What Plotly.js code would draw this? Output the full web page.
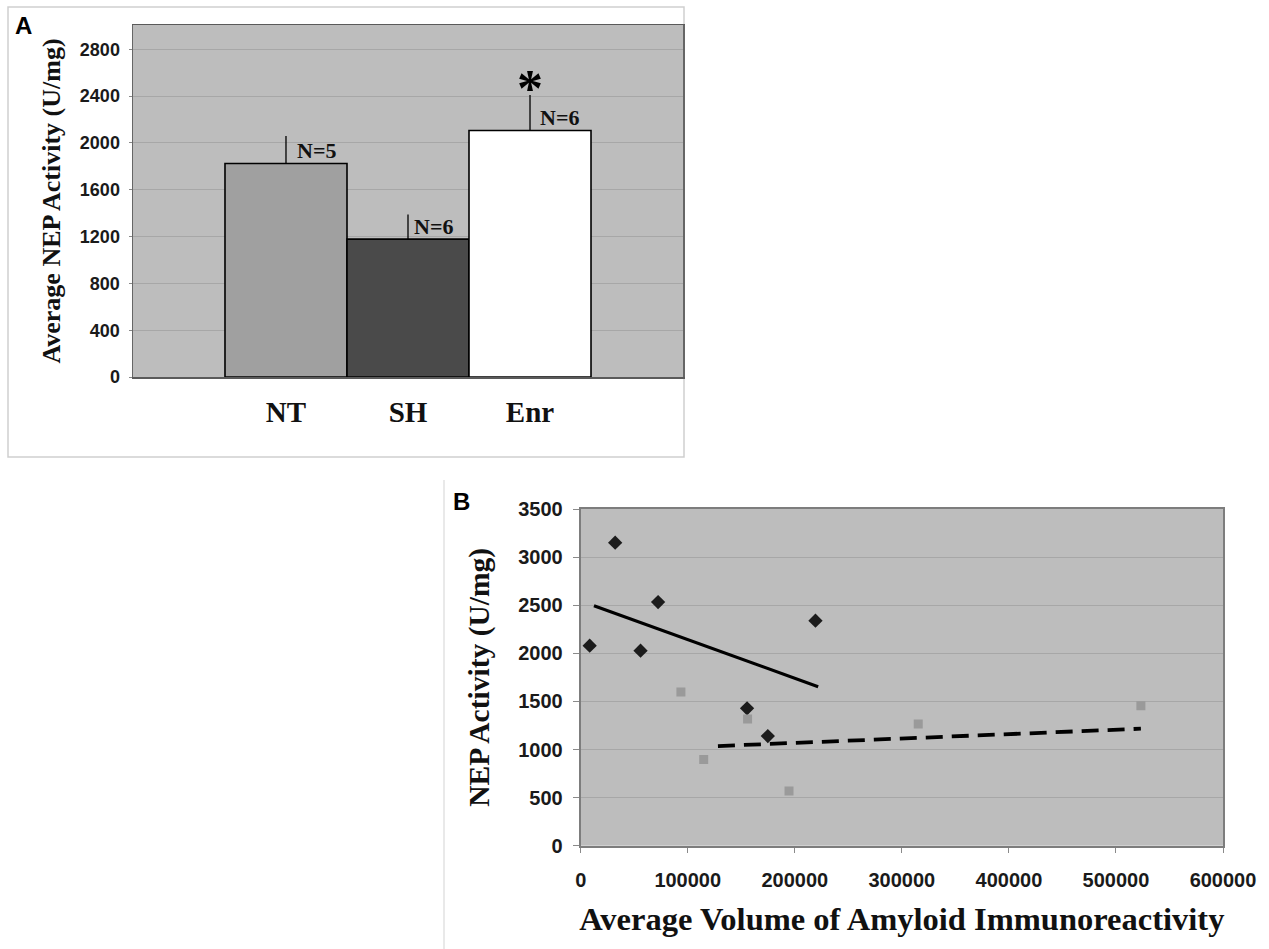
<!DOCTYPE html>
<html>
<head>
<meta charset="utf-8">
<script src="https://cdn.plot.ly/plotly-3.0.1.min.js"></script>
<style>html,body{margin:0;padding:0;background:#fff;}</style>
</head>
<body>
<div id="chart" style="width:1269px;height:949px;"></div>
<script>
// ---- Panel A data ----
const groups = ['NT', 'SH', 'Enr'];
const nepMeans = [1825, 1178, 2107];
const nepErrors = [234, 211, 302];
const groupN = ['N=5', 'N=6', 'N=6'];
const barColors = ['#a0a0a0', '#4a4a4a', '#ffffff'];

// ---- Panel B data ----
const darkX = [8400, 32200, 55900, 72300, 219300, 155400, 174800];
const darkY = [2079, 3150, 2027, 2533, 2339, 1428, 1140];
const grayX = [93600, 155900, 114900, 194600, 315300, 523300];
const grayY = [1597, 1317, 897, 568, 1265, 1455];
const trendDarkX = [12400, 221800];
const trendDarkY = [2495, 1653];
const trendGrayX = [128200, 523300];
const trendGrayY = [1036, 1216];

const W = 1269, H = 949;
const px = x => x / W;
const py = y => 1 - y / H;

const sansB = (s, c) => ({family: 'Liberation Sans, Arial, sans-serif', size: s, weight: 'bold', color: c || '#1a1a1a'});
const serifB = (s, c) => ({family: 'Liberation Serif, Times New Roman, serif', size: s, weight: 'bold', color: c || '#111'});

const traces = [
  {
    type: 'bar', x: groups, y: nepMeans, xaxis: 'x', yaxis: 'y',
    marker: {color: barColors, line: {color: '#000', width: 1.6}},
    error_y: {type: 'data', array: nepErrors, arrayminus: nepErrors.map(() => 0), symmetric: false,
              color: '#000', thickness: 1.3, width: 0},
    hoverinfo: 'x+y'
  },
  {
    type: 'scatter', mode: 'markers', x: darkX, y: darkY, xaxis: 'x2', yaxis: 'y2',
    marker: {symbol: 'diamond', size: 11, color: '#1c1c1c'}
  },
  {
    type: 'scatter', mode: 'markers', x: grayX, y: grayY, xaxis: 'x2', yaxis: 'y2',
    marker: {symbol: 'square', size: 9, color: '#9a9a9a'}
  },
  {
    type: 'scatter', mode: 'lines', x: trendDarkX, y: trendDarkY, xaxis: 'x2', yaxis: 'y2',
    line: {color: '#000', width: 3.2}
  },
  {
    type: 'scatter', mode: 'lines', x: trendGrayX, y: trendGrayY, xaxis: 'x2', yaxis: 'y2',
    line: {color: '#000', width: 3.8, dash: '17px,9px'}
  }
];

const nShift = [9, 4, 8];
const annotations = groups.map((g, i) => ({
  x: g, y: nepMeans[i], xref: 'x', yref: 'y', text: groupN[i], showarrow: false,
  xanchor: 'left', yanchor: 'bottom', xshift: nShift[i], yshift: -2, font: serifB(22)
}));
annotations.push({
  x: groups[2], y: nepMeans[2] + nepErrors[2], xref: 'x', yref: 'y', text: '*', showarrow: false,
  xanchor: 'center', yanchor: 'bottom', yshift: -24, font: serifB(52, '#000')
});
annotations.push({x: px(13), y: py(10), xref: 'paper', yref: 'paper', text: 'A', showarrow: false,
  xanchor: 'left', yanchor: 'top', font: sansB(24, '#000')});
annotations.push({x: px(451), y: py(486), xref: 'paper', yref: 'paper', text: 'B', showarrow: false,
  xanchor: 'left', yanchor: 'top', font: sansB(24, '#000')});

const layout = {
  width: W, height: H,
  margin: {l: 0, r: 0, t: 0, b: 0},
  paper_bgcolor: '#ffffff', plot_bgcolor: '#bdbdbd',
  showlegend: false, bargap: 0,
  xaxis: {
    domain: [px(133), px(683)], anchor: 'y', type: 'category', range: [-1.254, 3.254],
    showgrid: false, zeroline: false, showline: true, linecolor: '#5a5a5a', linewidth: 1.5, mirror: true,
    ticks: '', tickfont: serifB(29), ticklabelstandoff: 9
  },
  yaxis: {
    domain: [py(377), py(25)], anchor: 'x', range: [0, 3008], tick0: 0, dtick: 400,
    showgrid: true, gridcolor: '#a7a7a7', gridwidth: 1, zeroline: false,
    showline: true, linecolor: '#666', linewidth: 1.5, mirror: true,
    ticks: 'outside', ticklen: 3, tickcolor: '#888', tickfont: sansB(18), ticklabelstandoff: 5,
    title: {text: 'Average NEP Activity (U/mg)', font: serifB(26), standoff: 12}
  },
  xaxis2: {
    domain: [px(580.7), px(1223)], anchor: 'y2', range: [0, 600000], tick0: 0, dtick: 100000, tickformat: 'd',
    showgrid: false, zeroline: false, showline: true, linecolor: '#7d7d7d', linewidth: 2, mirror: true,
    ticks: 'outside', ticklen: 5, tickcolor: '#8a8a8a', tickfont: sansB(20), ticklabelstandoff: 10,
    title: {text: 'Average Volume of Amyloid Immunoreactivity', font: serifB(32.5), standoff: 18}
  },
  yaxis2: {
    domain: [py(845.7), py(509)], anchor: 'x2', range: [0, 3500], tick0: 0, dtick: 500,
    showgrid: true, gridcolor: '#a7a7a7', gridwidth: 1, zeroline: false,
    showline: true, linecolor: '#7d7d7d', linewidth: 2, mirror: true,
    ticks: 'outside', ticklen: 6, tickcolor: '#8a8a8a', tickfont: sansB(20), ticklabelstandoff: 6,
    title: {text: 'NEP Activity (U/mg)', font: serifB(29.5), standoff: 20}
  },
  annotations: annotations,
  shapes: [
    {type: 'rect', xref: 'paper', yref: 'paper', x0: px(8), x1: px(684), y0: py(457), y1: py(7),
     line: {color: '#cfcfcf', width: 1.5}, layer: 'below'},
    {type: 'line', xref: 'paper', yref: 'paper', x0: px(444), x1: px(444), y0: py(480), y1: py(949),
     line: {color: '#e2e2e2', width: 1.5}, layer: 'below'}
  ]
};

Plotly.newPlot('chart', traces, layout, {displayModeBar: false, staticPlot: true});
</script>
</body>
</html>
